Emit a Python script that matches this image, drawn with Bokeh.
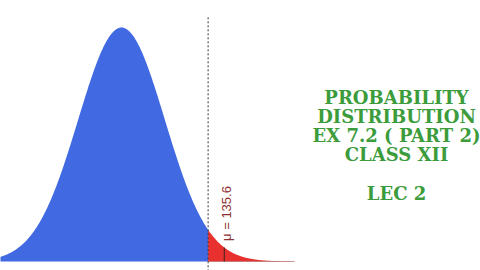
import numpy as np
from bokeh.plotting import figure
from bokeh.models import Range1d, Label
from bokeh.embed import file_html
from bokeh.resources import INLINE

# ---- data ----
mean = 100.0
sd = 15.0
cutoff = 130.0
tail_mean = 135.6
x_domain = [40.0, 160.0]
title_lines = ["PROBABILITY", "DISTRIBUTION", "EX 7.2 ( PART 2)", "CLASS XII"]
sub_line = "LEC 2"
mu_label = "\u03bc = 135.6"

def pdf(x):
    return np.exp(-0.5 * ((x - mean) / sd) ** 2) / (sd * np.sqrt(2 * np.pi))

xs_blue = np.linspace(x_domain[0], cutoff, 400)
xs_red = np.linspace(cutoff, x_domain[1], 200)
peak = pdf(mean)

# ---- layout ----
W, H = 480, 270
px_x = 2.887                   # pixels per x unit
x0 = mean - 121 / px_x
px_y = 234 / peak
y0 = -9 / px_y
y1 = peak + 27 / px_y

p = figure(width=W, height=H, output_backend="svg", toolbar_location=None,
           x_range=Range1d(x0, x0 + W / px_x), y_range=Range1d(y0, y1),
           min_border=0, background_fill_color="white", border_fill_color="white")
p.axis.visible = False
p.grid.visible = False
p.outline_line_color = None

p.varea(x=xs_blue, y1=0, y2=pdf(xs_blue), fill_color="#4169e1")
p.varea(x=xs_red, y1=0, y2=pdf(xs_red), fill_color="#e8302e")
p.line(x=[cutoff, x_domain[1]], y=[0, 0], line_color="#b07070", line_width=1, line_alpha=0.7)

# tail mean marker
p.segment(x0=[tail_mean], y0=[0], x1=[tail_mean], y1=[pdf(tail_mean)],
          line_color="#402020", line_width=1)
# cutoff dashed line
p.segment(x0=[cutoff], y0=[y0 - 0.001], x1=[cutoff], y1=[(261 - 16) / px_y],
          line_color="#333333", line_width=1, line_dash="2 2")

p.add_layout(Label(x=226, y=H - 213, x_units="screen", y_units="screen",
                   text=mu_label, angle=np.pi / 2, text_align="center",
                   text_baseline="middle", text_font="Liberation Sans",
                   text_font_size="13px", text_color="#8e3030"))

green = "#3c9c3c"
line_ys = [97, 116, 135, 154]
for t, yy in zip(title_lines, line_ys):
    p.add_layout(Label(x=396, y=H - yy, x_units="screen", y_units="screen",
                       text=t, text_align="center", text_baseline="middle",
                       text_font="DejaVu Serif", text_font_style="bold",
                       text_font_size="18px", text_color=green))
p.add_layout(Label(x=396, y=H - 193, x_units="screen", y_units="screen",
                   text=sub_line, text_align="center", text_baseline="middle",
                   text_font="DejaVu Serif", text_font_style="bold",
                   text_font_size="18px", text_color=green))

open("out.html", "w").write(file_html(p, INLINE))
